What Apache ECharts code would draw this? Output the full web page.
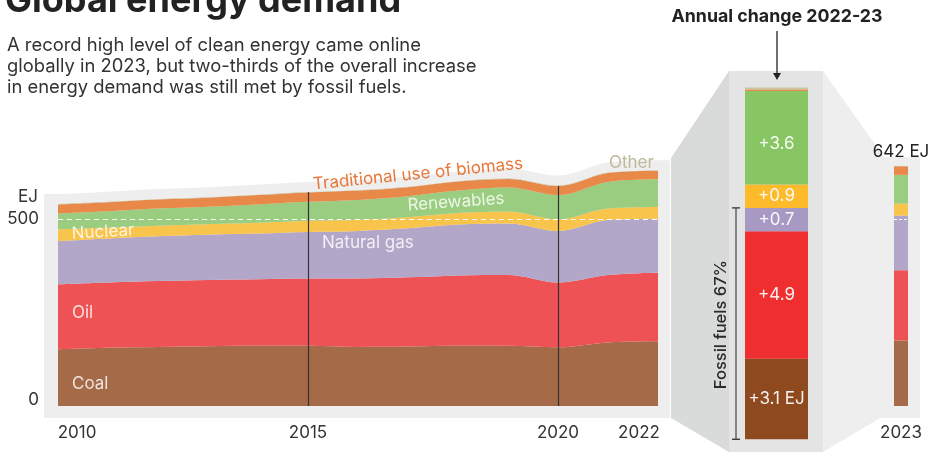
<!DOCTYPE html>
<html>
<head>
<meta charset="utf-8">
<script src="https://cdn.jsdelivr.net/npm/echarts@6/dist/echarts.min.js"></script>
<style>
html,body{margin:0;padding:0;background:#fff;}
#c{width:933px;height:452px;}
</style>
</head>
<body>
<div id="c"></div>
<script>
// ---------- DATA ----------
const years = ['2010', '2011', '2012', '2013', '2014', '2015', '2016', '2017', '2018', '2019', '2020', '2021', '2022'];
const coal       = [152, 156, 158, 160, 161, 161, 158, 159, 161, 161, 157, 170, 173];
const oil        = [173, 174, 176, 177, 178, 180, 183, 185, 188, 189, 173, 180, 183];
const gas        = [116, 118, 120, 121, 122, 124, 127, 131, 136, 138, 138, 147, 145];
const nuclear    = [31, 29, 28, 28, 29, 30, 30, 30, 31, 32, 31, 31, 31];
const renewables = [43, 44, 46, 47, 49, 51, 53, 56, 60, 64, 65, 71, 74];
const biomass    = [24, 24, 24, 24, 25, 25, 25, 24, 24, 23, 24, 24, 23];
const other      = [1, 1, 1, 1, 1, 1, 1, 1, 1, 1, 1, 1, 1];

const seriesNames = ['Coal', 'Oil', 'Natural gas', 'Nuclear', 'Renewables', 'Traditional use of biomass', 'Other'];
const values2023  = [175, 188, 146, 32, 77, 23, 1];
const change2223  = [3.1, 4.9, 0.9, 0.9, 3.6, 0.05, 0.08];
const changeLabels = ['+3.1 EJ', '+4.9', '+0.7', '+0.9', '+3.6', '', ''];
const fossilShareLabel = 'Fossil fuels 67%';
const xTickLabels = ['2010', '2015', '2020', '2022'];
const yTickLabels = [0, 500];
const markerYears = ['2015', '2020'];
const refLine = 500;

// ---------- STYLE ----------
const FONT = 'Inter, "Noto Sans", sans-serif';
const mainColors   = ['#A56A47', '#EE5254', '#B3A7C9', '#F9C44C', '#9ACD7F', '#E8894A', '#C9C29C'];
const changeColors = ['#8E491F', '#EE2E2F', '#A898C4', '#FDBA2B', '#88C664', '#E8894A', '#C9C29C'];
const mainArrays = [coal, oil, gas, nuclear, renewables, biomass, other];

const totals = years.map((y, i) => mainArrays.reduce((s, a) => s + a[i], 0));
const total2023 = values2023.reduce((s, v) => s + v, 0);
const pad = 27;
const yearNum = years.map(Number);

const chart = echarts.init(document.getElementById('c'), null, {renderer: 'canvas'});

const series = [];
// background panel behind the main chart
series.push({
  type: 'line', xAxisIndex: 1, yAxisIndex: 1, silent: true, z: 1,
  smooth: 0.35, symbol: 'none', lineStyle: {width: 0},
  areaStyle: {color: '#EEEEEE', opacity: 1, origin: 'start'},
  data: [[yearNum[0] - 14 / 50, totals[0] + pad]]
    .concat(yearNum.map((y, i) => [y, totals[i] + pad]))
    .concat([[yearNum[yearNum.length - 1] + 12 / 50, totals[totals.length - 1] + pad]])
});
// main stacked areas
mainArrays.forEach((arr, k) => {
  const s = {
    name: seriesNames[k], type: 'line', stack: 'main', xAxisIndex: 0, yAxisIndex: 0,
    smooth: 0.35, symbol: 'none', z: 3,
    lineStyle: {width: 0}, areaStyle: {color: mainColors[k], opacity: 1},
    data: arr.slice()
  };
  if (k === mainArrays.length - 1) {
    s.markLine = {
      silent: true, symbol: 'none', animation: false,
      label: {show: false},
      data: [
        [{coord: [years[0], refLine], lineStyle: {color: '#fff', type: [5, 4], width: 1.2}},
         {coord: [years[years.length - 1], refLine]}]
      ].concat(markerYears.map(yr => {
        const i = years.indexOf(yr);
        return [{coord: [yr, 0], lineStyle: {color: '#333', type: 'solid', width: 1.2}},
                {coord: [yr, totals[i]]}];
      }))
    };
  }
  series.push(s);
});
// 2023 bar
values2023.forEach((v, k) => {
  const s = {
    name: seriesNames[k], type: 'bar', stack: 'b23', xAxisIndex: 3, yAxisIndex: 3,
    barWidth: '100%', itemStyle: {color: mainColors[k]}, z: 3,
    data: [v]
  };
  if (k === values2023.length - 1) {
    s.label = {show: true, position: 'top', distance: 6, formatter: () => Math.round(total2023) + ' EJ',
      fontFamily: FONT, fontSize: 17, color: '#222'};
  }
  if (k === 2) {
    s.markLine = {silent: true, symbol: 'none', label: {show: false},
      lineStyle: {color: '#fff', type: [3, 2], width: 1.2},
      data: [{yAxis: refLine}]};
  }
  series.push(s);
});
// change bar
change2223.forEach((v, k) => {
  series.push({
    name: seriesNames[k], type: 'bar', stack: 'chg', xAxisIndex: 2, yAxisIndex: 2,
    barWidth: '100%', itemStyle: {color: changeColors[k]}, z: 3,
    label: {show: changeLabels[k] !== '', position: 'inside', formatter: changeLabels[k],
      fontFamily: FONT, fontSize: 17, color: 'rgba(255,255,255,0.92)',
      offset: k === 4 ? [0, 6] : [0, 0]},
    data: [v]
  });
});

const option = {
  animation: false,
  backgroundColor: '#fff',
  grid: [
    {left: 58, width: 600, top: 144.2, height: 261.8},
    {left: 44, width: 626, top: 144.2, height: 273.8},
    {left: 745, width: 63, top: 75.3, height: 364},
    {left: 894, width: 14, top: 144.2, height: 261.8}
  ],
  xAxis: [
    {gridIndex: 0, type: 'category', data: years, boundaryGap: false,
     axisLine: {show: false}, axisTick: {show: false}, splitLine: {show: false},
     axisLabel: {
       interval: 0, margin: 18, fontFamily: FONT, fontSize: 17, color: '#333',
       formatter: v => {
         if (!xTickLabels.includes(v)) return '';
         if (v === xTickLabels[0]) return '{l|' + v + '}';
         if (v === xTickLabels[xTickLabels.length - 1]) return '{r|' + v + '}';
         return '{c|' + v + '}';
       },
       rich: {
         l: {fontFamily: FONT, fontSize: 17, color: '#333', padding: [0, 0, 0, 38]},
         r: {fontFamily: FONT, fontSize: 17, color: '#333', padding: [0, 38, 0, 0]},
         c: {fontFamily: FONT, fontSize: 17, color: '#333'}
       }
     }},
    {gridIndex: 1, type: 'value', min: yearNum[0] - 14 / 50, max: yearNum[yearNum.length - 1] + 12 / 50, show: false},
    {gridIndex: 2, type: 'category', data: ['change'], show: false},
    {gridIndex: 3, type: 'category', data: ['2023'],
     axisLine: {show: false}, axisTick: {show: false},
     axisLabel: {margin: 18, fontFamily: FONT, fontSize: 17, color: '#333'}}
  ],
  yAxis: [
    {gridIndex: 0, type: 'value', min: 0, max: 700, interval: 500,
     axisLine: {show: false}, axisTick: {show: false}, splitLine: {show: false},
     axisLabel: {showMaxLabel: false, margin: 19, fontFamily: FONT, fontSize: 17, color: '#333',
       formatter: v => yTickLabels.includes(v) ? (v === 0 ? '{z|' + v + '}' : '{n|' + v + '}') : '',
       rich: {
         z: {fontFamily: FONT, fontSize: 17, color: '#333', padding: [0, 0, 12, 0]},
         n: {fontFamily: FONT, fontSize: 17, color: '#333'}
       }}},
    {gridIndex: 1, type: 'value', min: -32.1, max: 700, show: false},
    {gridIndex: 2, type: 'value', min: 0, max: 14, show: false},
    {gridIndex: 3, type: 'value', min: 0, max: 700, show: false}
  ],
  series: series
};
chart.setOption(option);

// ---------- annotations ----------
const fossilTop = change2223[0] + change2223[1] + change2223[2];
const pTop = chart.convertToPixel({xAxisIndex: 2, yAxisIndex: 2}, ['change', fossilTop]);
const pBot = chart.convertToPixel({xAxisIndex: 2, yAxisIndex: 2}, ['change', 0]);
const bx = 736;
const whiteLab = 'rgba(255,255,255,0.82)';
const txt = (text, x, y, o) => Object.assign({
  type: 'text', x: x, y: y, z: 100, silent: true,
  style: Object.assign({text: text, fontFamily: FONT, fontSize: 17, fill: '#333',
    align: 'left', verticalAlign: 'middle'}, (o && o.style) || {})
}, o && o.rotation !== undefined ? {rotation: o.rotation} : {});

chart.setOption({
  graphic: [
    // panels
    {type: 'polygon', z: 0, silent: true, shape: {points: [[671, 158], [729, 71], [729, 452], [671, 418]]}, style: {fill: '#D9DBDB'}},
    {type: 'rect', z: 0, silent: true, shape: {x: 729, y: 71, width: 94, height: 381}, style: {fill: '#E4E4E4'}},
    {type: 'polygon', z: 0, silent: true, shape: {points: [[823, 71], [884, 157], [920, 157], [920, 418], [880, 418], [823, 452]]}, style: {fill: '#EEEEEE'}},
    // title + subtitle
    txt('Global energy demand', 5, 19, {style: {fontSize: 36, fontWeight: 'bold', fill: '#222', verticalAlign: 'bottom'}}),
    txt('A record high level of clean energy came online\nglobally in 2023, but two-thirds of the overall increase\nin energy demand was still met by fossil fuels.', 7, 35,
      {style: {fontSize: 18.4, lineHeight: 21, fill: '#333', verticalAlign: 'top'}}),
    txt('EJ', 38, 197, {style: {align: 'right'}}),
    // series labels
    txt('Coal', 72, 384, {style: {fill: whiteLab}}),
    txt('Oil', 72, 313, {style: {fill: whiteLab}}),
    txt('Natural gas', 322, 243, {style: {fill: whiteLab}}),
    txt('Nuclear', 103, 232, {rotation: 0.06, style: {fill: whiteLab, align: 'center'}}),
    txt('Renewables', 456, 202, {rotation: 0.07, style: {fill: whiteLab, align: 'center'}}),
    txt('Traditional use of biomass', 418, 174, {rotation: 0.1, style: {fill: '#E8773A', align: 'center'}}),
    txt('Other', 609, 163, {style: {fill: '#BDBA9C'}}),
    // right annotations
    txt('Annual change 2022-23', 777, 17, {style: {fontSize: 17.8, fontWeight: 'bold', fill: '#222', align: 'center'}}),
    {type: 'line', z: 100, silent: true, shape: {x1: 777, y1: 31, x2: 777, y2: 75}, style: {stroke: '#222', lineWidth: 1.3}},
    {type: 'polygon', z: 100, silent: true, shape: {points: [[773, 73], [781, 73], [777, 80]]}, style: {fill: '#222'}},
    {type: 'line', z: 100, silent: true, shape: {x1: bx, y1: pTop[1], x2: bx, y2: pBot[1]}, style: {stroke: '#666', lineWidth: 1.5}},
    {type: 'line', z: 100, silent: true, shape: {x1: bx - 4, y1: pTop[1], x2: bx + 4, y2: pTop[1]}, style: {stroke: '#333', lineWidth: 1.3}},
    {type: 'line', z: 100, silent: true, shape: {x1: bx - 4, y1: pBot[1], x2: bx + 4, y2: pBot[1]}, style: {stroke: '#333', lineWidth: 1.3}},
    txt(fossilShareLabel, 721, (pTop[1] + pBot[1]) / 2 + 1, {rotation: Math.PI / 2, style: {fontSize: 16.5, fontWeight: 500, fill: '#2a2a2a', align: 'center'}})
  ]
});
</script>
</body>
</html>
